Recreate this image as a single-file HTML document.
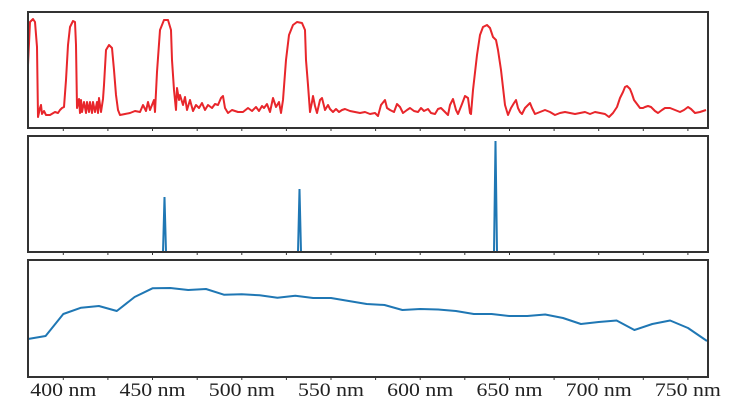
<!DOCTYPE html>
<html><head><meta charset="utf-8"><style>
body{margin:0;background:#fff;}
svg{display:block;}
text{font-family:"Liberation Serif",serif;font-size:19px;fill:#222;}
</style></head><body>
<svg width="741" height="408" viewBox="0 0 741 408" xmlns="http://www.w3.org/2000/svg">
<polyline fill="none" stroke="#e8262b" stroke-width="2" stroke-linejoin="round" points="28,65 30,22 33,19 35,22 37,47 38,117 40,108 41,105 42,114 44,111 46,115 50,115 55,112 58,113 60,110 62,108 64,107 66,80 68,45 70,27 73,21 75,22 76,45 77,108 79,99 80,113 81,100 82,112 84,102 86,113 87,102 89,112 90,102 92,113 93,102 95,112 97,102 98,113 99,98 101,112 103,99 104,85 106,50 109,45 112,48 114,70 116,95 118,110 120,115 125,114 130,113 135,111 140,112 143,105 146,111 148,102 150,110 152,105 154,100 155,112 157,72 160,30 164,20 168,20 171,30 172,60 174,90 176,110 177,88 179,100 180,95 183,105 185,97 187,110 190,100 193,111 196,105 199,108 202,103 205,110 208,105 212,108 215,104 218,105 221,98 223,96 225,108 228,113 232,110 238,112 243,112 248,108 252,111 256,107 259,111 262,106 264,108 267,104 270,112 273,98 276,107 279,102 281,113 283,100 286,60 289,35 293,25 297,22 302,23 305,30 306,60 308,85 310,112 312,102 313,96 315,106 317,113 320,100 322,98 325,110 328,105 330,109 333,112 336,109 339,112 342,110 345,109 350,111 355,112 360,113 365,112 370,114 375,113 378,116 381,105 385,100 387,108 390,110 394,112 397,104 400,107 403,113 407,110 410,108 414,111 418,112 421,108 424,111 428,109 431,113 435,114 438,109 441,108 444,111 448,115 450,105 453,99 456,110 458,114 462,104 465,96 468,98 470,113 471,114 473,90 477,55 480,35 483,27 487,25 490,28 493,37 496,40 498,50 501,70 505,105 508,115 511,108 514,103 516,100 518,108 520,112 522,114 525,108 530,103 532,108 535,114 540,112 545,110 550,112 555,115 560,113 565,112 570,113 575,114 580,113 585,112 590,114 595,112 600,113 605,114 609,117 613,113 617,107 620,98 623,92 625,87 627,86 630,89 632,94 634,100 637,104 640,108 643,108 645,107 648,106 651,107 655,111 658,113 662,110 665,108 670,108 675,110 680,112 684,110 688,107 691,109 695,113 700,112 703,111 706,110"/>
<polyline fill="none" stroke="#1f77b4" stroke-width="2" points="28,252 163,252 164.5,197 166,252 298,252 299.5,189 301,252 494,252 495.5,141 497,252 707,252"/>
<polyline fill="none" stroke="#1f77b4" stroke-width="2" stroke-linejoin="round" points="28,339 45.6,336 63.3,314 81.1,307.7 98.9,306 116.8,311 134.6,297 152.5,288.3 170.3,288 188.2,290 206,289 223.9,294.7 241.7,294.3 259.6,295.3 277.4,297.7 295.3,295.7 313.1,298 331,298 348.8,301 366.7,304 384.5,305 402.4,310 420.2,309 438.1,309.5 455.9,311 473.8,314 491.6,314 509.5,316 527.3,316 545.2,314.5 563,318 580.9,324 598.7,322 616.6,320.5 634.4,330 652.3,324 670.1,320.5 688,328 707,341"/>
<g fill="none" stroke="#333" stroke-width="2">
<rect x="28" y="12" width="680" height="116"/>
<rect x="28" y="136" width="680" height="116"/>
<rect x="28" y="260" width="680" height="117"/>
</g>
<g stroke="#333" stroke-width="1">
<path d="M63.3,128v3M107.9,128v3M152.5,128v3M197.2,128v3M241.8,128v3M286.4,128v3M331,128v3M375.6,128v3M420.2,128v3M464.8,128v3M509.5,128v3M554.1,128v3M598.7,128v3M643.3,128v3M687.9,128v3"/>
<path d="M63.3,252v3M107.9,252v3M152.5,252v3M197.2,252v3M241.8,252v3M286.4,252v3M331,252v3M375.6,252v3M420.2,252v3M464.8,252v3M509.5,252v3M554.1,252v3M598.7,252v3M643.3,252v3M687.9,252v3"/>
<path d="M63.3,377v3M107.9,377v3M152.5,377v3M197.2,377v3M241.8,377v3M286.4,377v3M331,377v3M375.6,377v3M420.2,377v3M464.8,377v3M509.5,377v3M554.1,377v3M598.7,377v3M643.3,377v3M687.9,377v3"/>
</g>
<g>
<text x="30.3" y="396" textLength="66" lengthAdjust="spacingAndGlyphs">400 nm</text>
<text x="119.5" y="396" textLength="66" lengthAdjust="spacingAndGlyphs">450 nm</text>
<text x="208.8" y="396" textLength="66" lengthAdjust="spacingAndGlyphs">500 nm</text>
<text x="298" y="396" textLength="66" lengthAdjust="spacingAndGlyphs">550 nm</text>
<text x="387.2" y="396" textLength="66" lengthAdjust="spacingAndGlyphs">600 nm</text>
<text x="476.5" y="396" textLength="66" lengthAdjust="spacingAndGlyphs">650 nm</text>
<text x="565.7" y="396" textLength="66" lengthAdjust="spacingAndGlyphs">700 nm</text>
<text x="654.9" y="396" textLength="66" lengthAdjust="spacingAndGlyphs">750 nm</text>
</g>
</svg>
</body></html>
